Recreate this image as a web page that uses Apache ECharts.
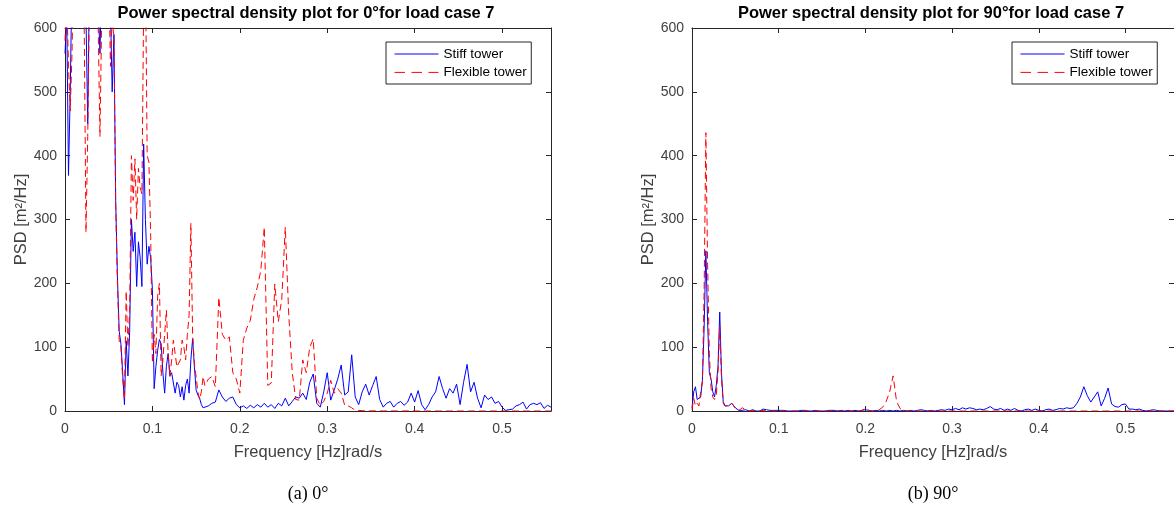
<!DOCTYPE html>
<html><head><meta charset="utf-8">
<script src="https://cdn.jsdelivr.net/npm/echarts@6/dist/echarts.min.js"></script>
<style>html,body{margin:0;padding:0;background:#fff}#c{width:1174px;height:510px}</style>
</head><body><div id="c"></div>
<script>
// Frequency samples (Hz)
const freq = [
0,0.002,0.004,0.006,0.008,0.010,0.012,0.014,0.016,0.018,
0.020,0.022,0.024,0.026,0.028,0.030,0.032,0.034,0.036,0.038,
0.040,0.042,0.044,0.046,0.048,0.050,0.052,0.054,0.056,0.058,
0.060,0.062,0.064,0.066,0.068,0.070,0.072,0.074,0.076,0.078,
0.080,0.082,0.084,0.086,0.088,0.090,0.092,0.094,0.096,0.098,
0.100,0.102,0.104,0.106,0.108,0.110,0.112,0.114,0.116,0.118,
0.120,0.122,0.124,0.126,0.128,0.130,0.132,0.134,0.136,0.138,
0.140,0.142,0.144,0.146,0.148,0.150,0.152,0.154,0.156,0.158,
0.160,0.164,0.168,0.172,0.176,0.180,0.184,0.188,0.192,0.196,
0.200,0.204,0.208,0.212,0.216,0.220,0.224,0.228,0.232,0.236,
0.240,0.244,0.248,0.252,0.256,0.260,0.264,0.268,0.272,0.276,
0.280,0.284,0.288,0.292,0.296,0.300,0.304,0.308,0.312,0.316,
0.320,0.324,0.328,0.332,0.336,0.340,0.344,0.348,0.352,0.356,
0.360,0.364,0.368,0.372,0.376,0.380,0.384,0.388,0.392,0.396,
0.400,0.404,0.408,0.412,0.416,0.420,0.424,0.428,0.432,0.436,
0.440,0.444,0.448,0.452,0.456,0.460,0.464,0.468,0.472,0.476,
0.480,0.484,0.488,0.492,0.496,0.500,0.504,0.508,0.512,0.516,
0.520,0.524,0.528,0.532,0.536,0.540,0.544,0.548,0.552,0.556];

// (a) 0 deg — Stiff tower PSD
const stiff0 = [
560,620,369,500,680,760,820,860,840,780,
720,680,620,450,680,760,820,780,700,640,
560,680,760,820,760,700,630,500,590,330,
210,125,105,60,10,110,55,125,300,250,
280,195,265,240,195,418,300,230,258,240,
190,35,70,95,112,105,60,28,70,90,
55,60,58,28,45,40,22,38,17,40,
50,28,80,113,70,33,25,20,10,5,
2,8,12,14,33,22,15,20,22,10,
5,8,4,9,5,10,6,12,6,10,
4,12,8,20,8,15,22,20,28,18,
45,58,12,6,30,60,17,33,50,72,
25,30,88,22,10,30,42,25,40,54,
18,6,12,15,6,12,15,9,14,28,
14,32,10,2,10,22,30,54,35,20,
35,28,42,10,45,73,30,45,20,5,
25,18,22,12,15,6,1,2,3,8,
10,14,3,10,12,10,13,4,9,6];

// (a) 0 deg — Flexible tower PSD
const flex0 = [
580,650,540,470,560,700,800,850,800,760,
700,600,280,430,650,720,780,740,680,600,
430,620,720,780,720,680,540,620,580,320,
200,110,100,50,18,188,100,160,400,330,
395,300,380,350,340,640,700,400,390,278,
75,120,90,180,200,55,80,120,158,90,
54,80,111,90,69,75,80,111,100,80,
120,150,294,120,75,54,30,18,30,54,
40,50,54,38,178,120,111,116,60,50,
28,111,130,142,175,194,220,288,40,44,
199,140,175,288,150,60,18,17,80,60,
100,113,20,9,15,28,48,28,35,28,
9,8,5,1,1,0.5,0.3,0.2,0.2,0.1,
0.1,0,0.1,0,0.1,0,0.1,0,0.1,0,
0,0,0,0,0,0,0,0,0,0,
0,0,0,0,0,0,0,0,0,0,
0,0,0,0,0,0,0,0,0,0,
0,0,0,0,0,0,0,0,0,0];

// (b) 90 deg — Stiff tower PSD
const stiff90 = [
5,30,38,18,20,22,48,130,251,140,
60,50,30,22,40,70,155,60,15,8,
10,8,10,12,10,5,2,1,1,1,
1,2,1,0,1,2,1,0,1,0,
1,3,4,2,0,1,0,1,0,1,
0,1,0,1,0,0,1,0,1,0,
1,0,0,1,0,1,0,0,1,0,
0,1,0,0,1,0,1,0,0,1,
0,1,0,1,0,1,0,1,0,1,
2,1,0,1,0,1,0,1,0,1,
0,1,0,1,0,1,2,1,0,1,
0,1,2,1,3,2,4,2,5,3,
5,4,2,3,2,4,7,3,2,4,
1,3,1,4,1,0,2,3,1,3,
1,0,2,3,1,2,4,3,5,4,
5,12,22,38,24,14,22,30,8,20,
36,11,7,6,10,11,3,3,2,3,
1,0,1,2,1,0,0,0,0,0];

// (b) 90 deg — Flexible tower PSD
const flex90 = [
2,20,8,12,8,30,45,190,436,230,
90,35,22,18,25,60,132,50,12,8,
9,9,10,12,8,4,2,1,2,5,
6,2,1,0,0,1,0,0,0,0,
0,1,3,1,0,0,0,0,0,0,
0,0,0,0,0,0,0,0,0,0,
0,0,0,0,0,0,0,0,0,0,
0,0,0,0,0,0,0,0,0,0,
0,0,0,0,0,0,0,0,0,1,
4,1,0,0,2,6,15,30,55,15,
4,1,0,0,0,0,0,0,0,0,
0,0,0,0,0,0,0,0,0,0,
0,0,0,0,0,0,0,0,0,0,
0,0,0,0,0,0,0,0,0,0,
0,0,0,0,0,0,0,0,0,0,
0,0,0,0,0,0,0,0,0,0,
0,0,0,0,0,0,0,0,0,0,
0,0,0,0,0,0,0,0,0,0];

const xTicks = [0, 0.1, 0.2, 0.3, 0.4, 0.5];
const yTicks = [0, 100, 200, 300, 400, 500, 600];
const seriesNames = ['Stiff tower', 'Flexible tower'];
const titles = ['Power spectral density plot for 0\u00b0for load case 7', 'Power spectral density plot for 90\u00b0for load case 7'];
const captions = ['(a) 0\u00b0', '(b) 90\u00b0'];
const xName = 'Frequency [Hz]rad/s';
const yName = 'PSD [m\u00b2/Hz]';

const SANS = '"Liberation Sans", Arial, Helvetica, sans-serif';
const AX = '#262626';
const LBL = '#404040';
const XMAX = 0.556;

function pairs(v) { return freq.map((f, i) => [f, v[i]]); }

const grids = [
  { left: 65, top: 28, width: 486, height: 383 },
  { left: 692, top: 28, width: 486, height: 383 }
];

const xAxes = [], yAxes = [];
grids.forEach((g, gi) => {
  xAxes.push({
    gridIndex: gi, type: 'value', position: 'bottom', min: 0, max: XMAX, interval: 0.1,
    axisLine: { show: true, onZero: false, lineStyle: { color: AX, width: 1 } },
    axisTick: { show: true, inside: true, length: 5, lineStyle: { color: AX } },
    axisLabel: { color: LBL, fontSize: 14, fontFamily: SANS, margin: 11, showMaxLabel: false,
      formatter: v => xTicks.some(t => Math.abs(t - v) < 1e-9) ? String(v) : '' },
    splitLine: { show: false },
    name: xName, nameLocation: 'middle', nameGap: 33,
    nameTextStyle: { color: LBL, fontSize: 16.5, fontFamily: SANS }
  });
  xAxes.push({
    gridIndex: gi, type: 'value', position: 'top', min: 0, max: XMAX, interval: 0.1,
    axisLine: { show: true, onZero: false, lineStyle: { color: AX, width: 1 } },
    axisTick: { show: true, inside: true, length: 5, lineStyle: { color: AX } },
    axisLabel: { show: false }, splitLine: { show: false }
  });
  yAxes.push({
    gridIndex: gi, type: 'value', position: 'left', min: 0, max: 600, interval: 100,
    axisLine: { show: true, onZero: false, lineStyle: { color: AX, width: 1 } },
    axisTick: { show: true, inside: true, length: 5, lineStyle: { color: AX } },
    axisLabel: { color: LBL, fontSize: 14, fontFamily: SANS, margin: 8,
      formatter: v => yTicks.includes(v) ? String(v) : '' },
    splitLine: { show: false },
    name: yName, nameLocation: 'middle', nameGap: 35, nameRotate: 90,
    nameTextStyle: { color: LBL, fontSize: 16.5, fontFamily: SANS }
  });
  yAxes.push({
    gridIndex: gi, type: 'value', position: 'right', min: 0, max: 600, interval: 100,
    axisLine: { show: true, onZero: false, lineStyle: { color: AX, width: 1 } },
    axisTick: { show: true, inside: true, length: 5, lineStyle: { color: AX } },
    axisLabel: { show: false }, splitLine: { show: false }
  });
});

const dataSets = [[stiff0, flex0], [stiff90, flex90]];
const series = [];
dataSets.forEach((pair, gi) => {
  series.push({
    name: seriesNames[0], type: 'line', xAxisIndex: gi * 2, yAxisIndex: gi * 2,
    data: pairs(pair[0]), symbol: 'none', showSymbol: false, clip: true, silent: true,
    lineStyle: { color: '#0000ff', width: 1 }, itemStyle: { color: '#0000ff' }
  });
  series.push({
    name: seriesNames[1], type: 'line', xAxisIndex: gi * 2, yAxisIndex: gi * 2,
    data: pairs(pair[1]), symbol: 'none', showSymbol: false, clip: true, silent: true,
    lineStyle: { color: '#ff0000', width: 1, type: [7, 4] }, itemStyle: { color: '#ff0000' }
  });
});

const legendLefts = [386, 1012];
const legends = legendLefts.map(l => ({
  data: [
    { name: seriesNames[0], lineStyle: { type: 'solid', width: 1 } },
    { name: seriesNames[1], lineStyle: { type: [10.5, 6.5], width: 1 } }
  ],
  left: l, top: 42, orient: 'vertical',
  itemWidth: 44, itemHeight: 14, itemGap: 4.4,
  padding: [5, 4.5, 4.6, 8],
  borderColor: AX, borderWidth: 1, backgroundColor: '#fff',
  itemStyle: { opacity: 0, borderWidth: 0 },
  textStyle: { color: '#000', fontSize: 13.5, fontFamily: SANS, lineHeight: 14 },
  selectedMode: false
}));

const titleCenters = [306, 931];
const titleOpts = titles.map((t, i) => ({
  text: t, left: titleCenters[i], top: 5, textAlign: 'center', padding: 0,
  textStyle: { color: '#000', fontSize: 16.5, fontWeight: 'bold', fontFamily: SANS }
}));

const captionCenters = [308, 933];
const graphics = captions.map((c, i) => ({
  type: 'text', x: captionCenters[i], y: 494,
  style: { text: c, align: 'center', verticalAlign: 'middle', fill: '#000',
    font: '18px "Liberation Serif", "Times New Roman", serif' }
}));

const chart = echarts.init(document.getElementById('c'), null, { renderer: 'canvas' });
chart.setOption({
  animation: false,
  backgroundColor: '#fff',
  title: titleOpts,
  legend: legends,
  grid: grids,
  xAxis: xAxes,
  yAxis: yAxes,
  series: series,
  graphic: graphics
});
</script>
</body></html>
